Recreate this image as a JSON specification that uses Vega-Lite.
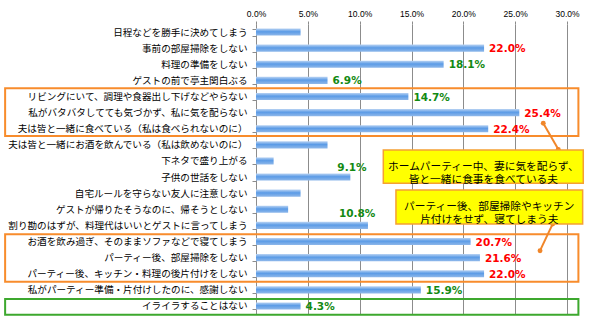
{
  "$schema": "https://vega.github.io/schema/vega-lite/v6.json",
  "width": 311,
  "height": 290,
  "autosize": {"type": "none"},
  "padding": {"left": 256, "top": 24, "right": 23, "bottom": 10},
  "background": "white",
  "config": {"view": {"stroke": null}, "font": "Noto Sans CJK JP"},
  "datasets": {
    "rows": [
      {"row": 1, "item": "日程などを勝手に決めてしまう", "value": 4.3, "emphasis": "none"},
      {"row": 2, "item": "事前の部屋掃除をしない", "value": 22.0, "emphasis": "high"},
      {"row": 3, "item": "料理の準備をしない", "value": 18.1, "emphasis": "mid"},
      {"row": 4, "item": "ゲストの前で亭主関白ぶる", "value": 6.9, "emphasis": "mid"},
      {"row": 5, "item": "リビングにいて、調理や食器出し下げなどやらない", "value": 14.7, "emphasis": "mid"},
      {"row": 6, "item": "私がバタバタしてても気づかず、私に気を配らない", "value": 25.4, "emphasis": "high"},
      {"row": 7, "item": "夫は皆と一緒に食べている（私は食べられないのに）", "value": 22.4, "emphasis": "high"},
      {"row": 8, "item": "夫は皆と一緒にお酒を飲んでいる（私は飲めないのに）", "value": 6.9, "emphasis": "none"},
      {"row": 9, "item": "下ネタで盛り上がる", "value": 1.7, "emphasis": "none"},
      {"row": 10, "item": "子供の世話をしない", "value": 9.1, "emphasis": "mid"},
      {"row": 11, "item": "自宅ルールを守らない友人に注意しない", "value": 4.3, "emphasis": "none"},
      {"row": 12, "item": "ゲストが帰りたそうなのに、帰そうとしない", "value": 3.1, "emphasis": "none"},
      {"row": 13, "item": "割り勘のはずが、料理代はいいとゲストに言ってしまう", "value": 10.8, "emphasis": "mid"},
      {"row": 14, "item": "お酒を飲み過ぎ、そのままソファなどで寝てしまう", "value": 20.7, "emphasis": "high"},
      {"row": 15, "item": "パーティー後、部屋掃除をしない", "value": 21.6, "emphasis": "high"},
      {"row": 16, "item": "パーティー後、キッチン・料理の後片付けをしない", "value": 22.0, "emphasis": "high"},
      {"row": 17, "item": "私がパーティー準備・片付けしたのに、感謝しない", "value": 15.9, "emphasis": "mid"},
      {"row": 18, "item": "イライラすることはない", "value": 4.3, "emphasis": "mid"}
    ],
    "frames": [
      {"x": -24.2, "x2": 31.1, "y": 4.49, "y2": 7.45, "tone": "complaint"},
      {"x": -24.2, "x2": 31.1, "y": 13.55, "y2": 16.5, "tone": "complaint"},
      {"x": -24.2, "x2": 31.1, "y": 17.57, "y2": 18.55, "tone": "positive"}
    ],
    "callouts": [
      {"x": 12.28, "x2": 31.57, "y": 8.32, "y2": 10.39},
      {"x": 13.5, "x2": 31.51, "y": 10.8, "y2": 12.91}
    ],
    "calloutText": [
      {"x": 21.93, "y": 9.405, "text": "ホームパーティー中、妻に気を配らず、\n皆と一緒に食事を食べている夫"},
      {"x": 22.5, "y": 11.87, "text": "パーティー後、部屋掃除やキッチン\n片付けをせず、寝てしまう夫"}
    ],
    "pointers": [
      {"id": 1, "x": 27.71, "y": 6.66},
      {"id": 1, "x": 29.16, "y": 8.28},
      {"id": 2, "x": 28.62, "y": 12.91},
      {"id": 2, "x": 27.4, "y": 14.57}
    ]
  },
  "resolve": {"scale": {"y": "independent"}},
  "layer": [
    {
      "data": {"name": "rows"},
      "encoding": {
        "y": {
          "field": "item",
          "type": "nominal",
          "sort": {"field": "row", "op": "min", "order": "ascending"},
          "scale": {"paddingInner": 0.56, "paddingOuter": 0.28},
          "axis": {
            "title": null,
            "domain": true,
            "domainColor": "#8c8c8c",
            "ticks": true,
            "tickBand": "extent",
            "tickColor": "#8c8c8c",
            "tickSize": 4,
            "labelFontSize": 9.6,
            "labelFont": "Noto Sans CJK JP",
            "labelPadding": 5,
            "labelLimit": 0,
            "labelColor": "#000000",
            "grid": false
          }
        },
        "x": {
          "field": "value",
          "type": "quantitative",
          "title": null,
          "scale": {"domain": [0, 30], "nice": false, "zero": true},
          "axis": {
            "orient": "top",
            "title": null,
            "values": [0, 5, 10, 15, 20, 25, 30],
            "labelExpr": "format(datum.value, '.1f') + '%'",
            "grid": true,
            "gridColor": "#8c8c8c",
            "domain": false,
            "ticks": true,
            "tickColor": "#8c8c8c",
            "tickSize": 3,
            "labelFontSize": 8.5,
            "labelFont": "Liberation Sans",
            "labelPadding": 3,
            "labelColor": "#000000",
            "labelFlush": false
          }
        }
      },
      "layer": [
        {
          "mark": {
            "type": "bar",
            "color": {
              "gradient": "linear",
              "x1": 0, "y1": 0, "x2": 0, "y2": 1,
              "stops": [
                {"offset": 0, "color": "#b9d3f3"},
                {"offset": 0.45, "color": "#5b9be6"},
                {"offset": 1, "color": "#8fb8ea"}
              ]
            }
          }
        },
        {
          "transform": [
            {"filter": "datum.emphasis != 'none' && datum.item != '子供の世話をしない' && datum.item != '割り勘のはずが、料理代はいいとゲストに言ってしまう'"},
            {"calculate": "format(datum.value, '.1f') + '%'", "as": "label"}
          ],
          "mark": {"type": "text", "align": "left", "baseline": "middle", "dx": 5, "dy": 1, "font": "DejaVu Sans", "fontWeight": "bold", "fontSize": 10.5},
          "encoding": {
            "text": {"field": "label", "type": "nominal"},
            "color": {"field": "emphasis", "type": "nominal", "scale": {"domain": ["high", "mid"], "range": ["#FF0000", "#138A13"]}, "legend": null}
          }
        },
        {
          "transform": [
            {"filter": "datum.item == '子供の世話をしない'"},
            {"calculate": "format(datum.value, '.1f') + '%'", "as": "label"}
          ],
          "mark": {"type": "text", "align": "left", "baseline": "middle", "dx": -13, "dy": -9.5, "font": "DejaVu Sans", "fontWeight": "bold", "fontSize": 10.5},
          "encoding": {
            "text": {"field": "label", "type": "nominal"},
            "color": {"field": "emphasis", "type": "nominal", "scale": {"domain": ["high", "mid"], "range": ["#FF0000", "#138A13"]}, "legend": null}
          }
        },
        {
          "transform": [
            {"filter": "datum.item == '割り勘のはずが、料理代はいいとゲストに言ってしまう'"},
            {"calculate": "format(datum.value, '.1f') + '%'", "as": "label"}
          ],
          "mark": {"type": "text", "align": "left", "baseline": "middle", "dx": -29, "dy": -11.5, "font": "DejaVu Sans", "fontWeight": "bold", "fontSize": 10.5},
          "encoding": {
            "text": {"field": "label", "type": "nominal"},
            "color": {"field": "emphasis", "type": "nominal", "scale": {"domain": ["high", "mid"], "range": ["#FF0000", "#138A13"]}, "legend": null}
          }
        }
      ]
    },
    {
      "layer": [
        {
          "data": {"name": "frames"},
          "mark": {"type": "rect", "fill": "transparent", "strokeWidth": 2},
          "encoding": {
            "x": {"field": "x", "type": "quantitative", "title": null},
            "x2": {"field": "x2"},
            "y": {"field": "y", "type": "quantitative", "title": null, "scale": {"domain": [0.5, 18.5], "reverse": true, "nice": false, "zero": false}, "axis": null},
            "y2": {"field": "y2"},
            "stroke": {"field": "tone", "type": "nominal", "scale": {"domain": ["complaint", "positive"], "range": ["#F88C2C", "#3DA82E"]}, "legend": null}
          }
        },
        {
          "data": {"name": "pointers"},
          "mark": {"type": "line", "color": "#F0862A", "strokeWidth": 2},
          "encoding": {
            "x": {"field": "x", "type": "quantitative", "title": null},
            "y": {"field": "y", "type": "quantitative", "title": null, "axis": null},
            "detail": {"field": "id", "type": "nominal"}
          }
        },
        {
          "data": {"name": "pointers"},
          "mark": {"type": "circle", "color": "#F0862A", "opacity": 1, "size": 24},
          "encoding": {
            "x": {"field": "x", "type": "quantitative", "title": null},
            "y": {"field": "y", "type": "quantitative", "title": null, "axis": null}
          }
        },
        {
          "data": {"name": "callouts"},
          "mark": {"type": "rect", "fill": "#FFFF00", "stroke": "#F5A033", "strokeWidth": 1.5},
          "encoding": {
            "x": {"field": "x", "type": "quantitative", "title": null},
            "x2": {"field": "x2"},
            "y": {"field": "y", "type": "quantitative", "title": null, "axis": null},
            "y2": {"field": "y2"}
          }
        },
        {
          "data": {"name": "calloutText"},
          "mark": {"type": "text", "font": "Noto Sans CJK JP", "fontSize": 10.7, "color": "#000000", "align": "center", "baseline": "middle", "lineBreak": "\n", "lineHeight": 13},
          "encoding": {
            "x": {"field": "x", "type": "quantitative", "title": null},
            "y": {"field": "y", "type": "quantitative", "title": null, "axis": null},
            "text": {"field": "text", "type": "nominal"}
          }
        }
      ]
    }
  ]
}
